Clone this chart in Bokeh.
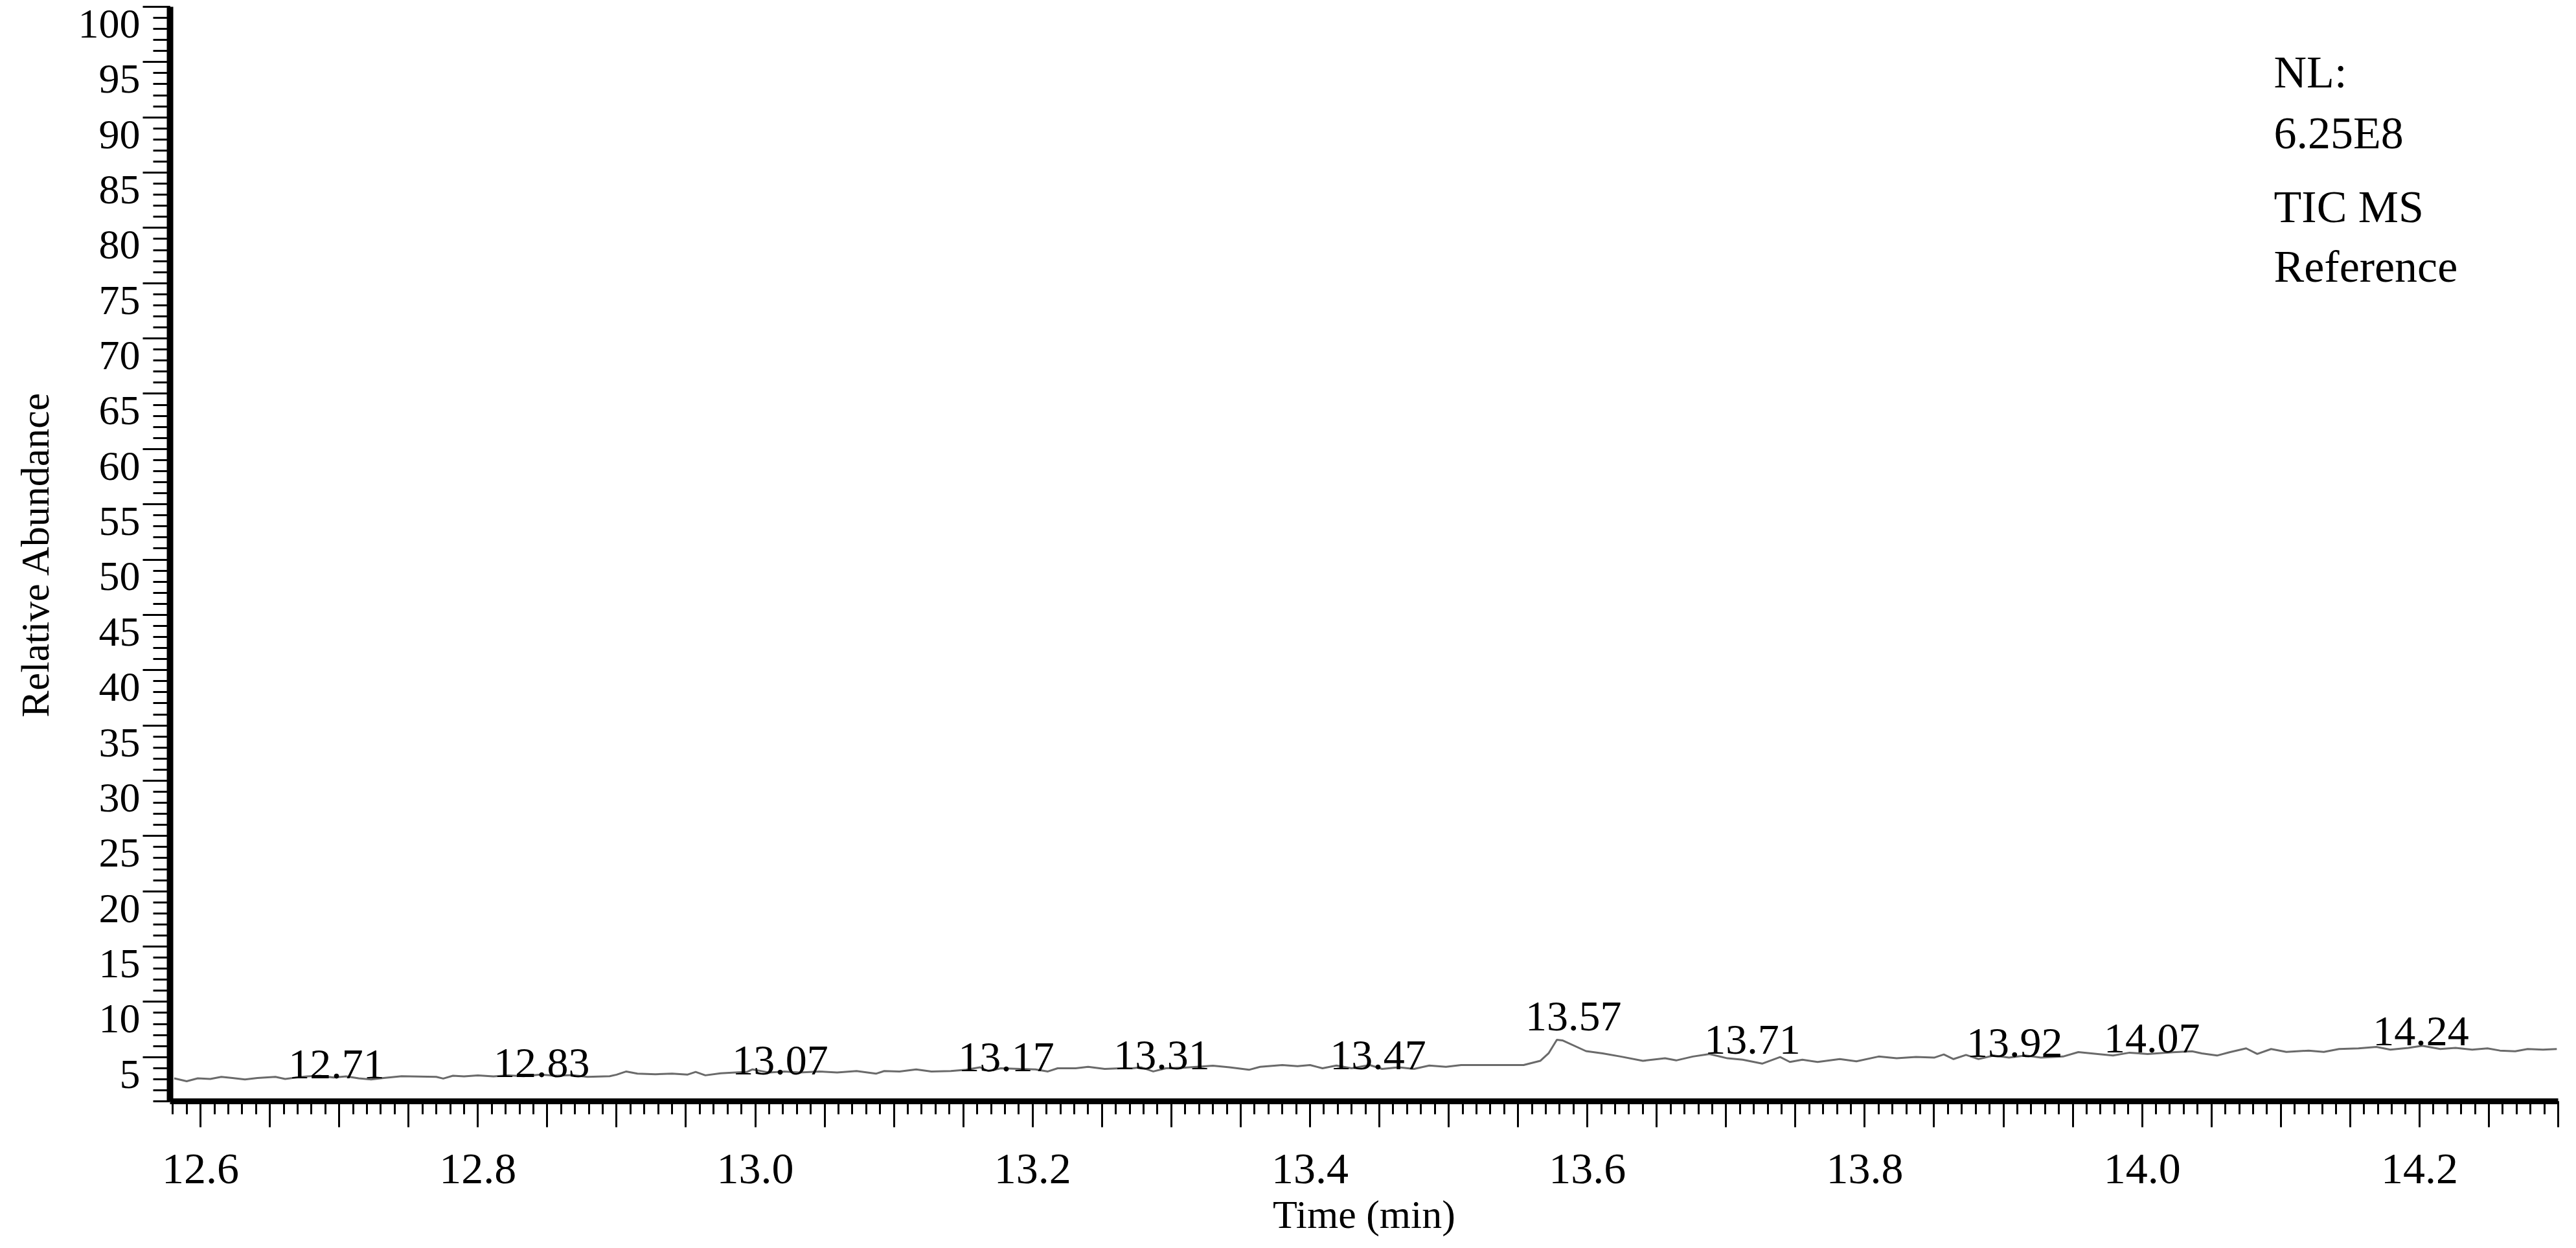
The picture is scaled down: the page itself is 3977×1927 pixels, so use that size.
from bokeh.plotting import figure
from bokeh.models import (FixedTicker, CustomJSTickFormatter, Range1d, ColumnDataSource,
                          LinearAxis)
from bokeh.core.properties import value
from bokeh.embed import file_html
from bokeh.resources import INLINE

# ---------------- data ----------------
time_min = [
    12.581, 12.590, 12.598, 12.607, 12.615, 12.623, 12.632, 12.641, 12.654, 12.661,
    12.669, 12.677, 12.686, 12.696, 12.705, 12.714, 12.723, 12.732, 12.745, 12.770,
    12.775, 12.782, 12.790, 12.800, 12.811, 12.822, 12.833, 12.845, 12.856, 12.868,
    12.879, 12.895, 12.900, 12.907, 12.915, 12.928, 12.940, 12.951, 12.957, 12.964,
    12.975, 12.994, 12.998, 13.010, 13.021, 13.032, 13.046, 13.059, 13.073, 13.087,
    13.093, 13.104, 13.116, 13.127, 13.141, 13.152, 13.162, 13.168, 13.177, 13.191,
    13.202, 13.211, 13.218, 13.231, 13.240, 13.252, 13.263, 13.272, 13.278, 13.287,
    13.296, 13.310, 13.330, 13.342, 13.356, 13.364, 13.380, 13.391, 13.400, 13.409,
    13.419, 13.430, 13.443, 13.452, 13.464, 13.475, 13.486, 13.498, 13.509, 13.554,
    13.566, 13.572, 13.578, 13.582, 13.599, 13.611, 13.624, 13.640, 13.656, 13.664,
    13.676, 13.688, 13.701, 13.712, 13.726, 13.739, 13.746, 13.755, 13.766, 13.782,
    13.794, 13.810, 13.823, 13.837, 13.850, 13.857, 13.864, 13.873, 13.882, 13.893,
    13.904, 13.916, 13.927, 13.943, 13.954, 13.968, 13.979, 13.991, 14.004, 14.022,
    14.036, 14.043, 14.054, 14.063, 14.075, 14.083, 14.093, 14.104, 14.120, 14.131,
    14.142, 14.156, 14.169, 14.179, 14.192, 14.202, 14.215, 14.226, 14.238, 14.249,
    14.258, 14.269, 14.278, 14.289, 14.299,
]
rel_abundance = [
    3.08, 2.82, 3.08, 3.02, 3.21, 3.11, 2.98, 3.11, 3.21, 3.02,
    3.15, 3.25, 3.31, 3.15, 3.25, 3.08, 2.98, 3.11, 3.27, 3.21,
    3.06, 3.31, 3.25, 3.35, 3.25, 3.35, 3.27, 3.41, 3.31, 3.37,
    3.21, 3.27, 3.41, 3.70, 3.50, 3.45, 3.50, 3.41, 3.66, 3.35,
    3.54, 3.66, 3.89, 3.60, 3.70, 3.60, 3.70, 3.60, 3.74, 3.50,
    3.74, 3.70, 3.89, 3.70, 3.74, 3.85, 4.08, 3.74, 3.99, 3.93,
    3.89, 3.70, 3.99, 3.99, 4.12, 3.93, 3.99, 3.99, 4.08, 3.70,
    3.99, 4.04, 4.22, 4.08, 3.85, 4.12, 4.28, 4.18, 4.28, 3.99,
    4.24, 3.99, 4.28, 3.93, 4.08, 3.93, 4.24, 4.12, 4.28, 4.28,
    4.66, 5.34, 6.56, 6.51, 5.54, 5.34, 5.05, 4.66, 4.89, 4.70,
    5.05, 5.28, 4.89, 4.76, 4.41, 5.01, 4.56, 4.76, 4.56, 4.82,
    4.62, 5.05, 4.89, 5.01, 4.95, 5.24, 4.82, 5.20, 4.82, 5.14,
    4.95, 5.14, 4.95, 5.05, 5.45, 5.28, 5.14, 5.40, 5.28, 5.44,
    5.53, 5.34, 5.14, 5.44, 5.79, 5.28, 5.73, 5.47, 5.59, 5.47,
    5.73, 5.79, 5.92, 5.67, 5.83, 6.02, 5.73, 5.83, 5.67, 5.79,
    5.59, 5.53, 5.73, 5.67, 5.73,
]

peak_labels = ["12.71", "12.83", "13.07", "13.17", "13.31", "13.47",
               "13.57", "13.71", "13.92", "14.07", "14.24"]
peak_label_x = [12.698, 12.846, 13.018, 13.181, 13.293, 13.449,
                13.590, 13.719, 13.908, 14.007, 14.201]
peak_label_y = [4.35, 4.47, 4.70, 5.00, 5.17, 5.17,
                8.70, 6.55, 6.30, 6.70, 7.30]

info_lines = ["NL:", "6.25E8", "TIC  MS", "Reference"]
info_x = [14.095, 14.095, 14.095, 14.095]
info_y = [94.1, 88.6, 81.9, 76.5]

y_major = list(range(5, 101, 5))
y_minor = list(range(1, 101))
x_major = [round(12.6 + 0.05 * k, 2) for k in range(0, 35)]
x_minor = [round(12.58 + 0.01 * k, 2) for k in range(0, 173)]

# ---------------- figure ----------------
FONT = "Liberation Serif"

p = figure(width=3961, height=1911, output_backend="svg", toolbar_location=None,
           title=None,
           x_range=Range1d(12.578, 14.30), y_range=Range1d(1, 100),
           min_border_left=262, min_border_right=12, min_border_top=10,
           min_border_bottom=206)
p.outline_line_color = None
p.grid.visible = False
p.background_fill_color = "white"
p.border_fill_color = "white"
# tick labels hang just below their ticks
p.extra_y_ranges = {"labels": Range1d(2.55, 101.55)}

p.line(time_min, rel_abundance, line_color="#6a6a6a", line_width=3)

lab_src = ColumnDataSource(dict(x=peak_label_x, y=peak_label_y, text=peak_labels))
p.text(x="x", y="y", text="text", source=lab_src, text_font=value(FONT),
       text_font_size="66px", text_align="center", text_baseline="alphabetic",
       text_color="black")

info_src = ColumnDataSource(dict(x=info_x, y=info_y, text=info_lines))
p.text(x="x", y="y", text="text", source=info_src, text_font=value(FONT),
       text_font_size="70px", text_align="left", text_baseline="alphabetic",
       text_color="black")

# x axis
xa = p.xaxis[0]
xa.ticker = FixedTicker(ticks=x_major, minor_ticks=x_minor)
xa.formatter = CustomJSTickFormatter(code="""
    const r = Math.round(tick * 10) / 10;
    if (Math.abs(tick - r) < 1e-6 && Math.round(r * 10) % 2 == 0) { return r.toFixed(1); }
    return "";
""")
xa.axis_line_width = 9
xa.axis_line_color = "black"
xa.major_tick_line_width = 3
xa.minor_tick_line_width = 3
xa.major_tick_out = 40
xa.major_tick_in = 0
xa.minor_tick_out = 20
xa.minor_tick_in = 0
xa.major_label_text_font = FONT
xa.major_label_text_font_size = "68px"
xa.major_label_text_color = "black"
xa.major_label_standoff = 42
xa.axis_label = "Time (min)"
xa.axis_label_text_font = FONT
xa.axis_label_text_font_size = "62px"
xa.axis_label_text_font_style = "normal"
xa.axis_label_text_color = "black"
xa.axis_label_standoff = 11

# y axis: line and ticks
ya = p.yaxis[0]
ya.ticker = FixedTicker(ticks=y_major, minor_ticks=y_minor)
ya.formatter = CustomJSTickFormatter(code="return '';")
ya.axis_line_width = 10
ya.axis_line_color = "black"
ya.major_tick_line_width = 3
ya.minor_tick_line_width = 3
ya.major_tick_out = 42
ya.major_tick_in = 0
ya.minor_tick_out = 26
ya.minor_tick_in = 0
ya.major_label_standoff = 0

# y axis: tick labels and title
yl = LinearAxis(y_range_name="labels",
                ticker=FixedTicker(ticks=y_major, minor_ticks=[]),
                axis_line_color=None, major_tick_line_color=None,
                minor_tick_line_color=None, major_tick_out=0, major_tick_in=0,
                minor_tick_out=0, minor_tick_in=0)
yl.major_label_text_font = FONT
yl.major_label_text_font_size = "64px"
yl.major_label_text_color = "black"
yl.major_label_standoff = 4
yl.axis_label = "Relative Abundance"
yl.axis_label_text_font = FONT
yl.axis_label_text_font_size = "62px"
yl.axis_label_text_font_style = "normal"
yl.axis_label_text_color = "black"
yl.axis_label_standoff = 30
p.add_layout(yl, "left")

open("out.html", "w").write(file_html(p, INLINE))
